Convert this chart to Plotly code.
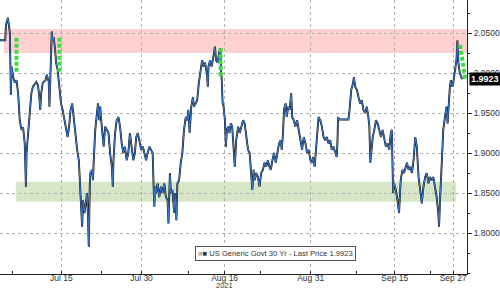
import plotly.graph_objects as go

# ---- data: trading-day index (Jul 1 2021 = 0) and yield ----
day = [1.86, 2.55, 2.65, 2.91, 3.17, 3.30, 3.39, 3.61, 3.83, 4.05, 4.26, 4.48, 4.71, 4.92, 5.14, 5.23, 5.30, 5.38,
       5.57, 5.71, 5.89, 6.02, 6.23, 6.45, 6.68, 6.89, 7.05, 7.20, 7.33, 7.54, 7.90, 8.07, 8.33, 8.42, 8.56, 8.65,
       8.73, 8.86, 8.99, 9.17, 9.30, 9.51, 9.74, 9.96, 10.17, 10.39, 10.62, 10.83, 11.05, 11.22, 11.44, 11.67,
       11.88, 12.10, 12.32, 12.53, 12.63, 12.76, 12.89, 13.06, 13.19, 13.41, 13.55, 13.64, 13.77, 13.85, 14.07,
       14.20, 14.29, 14.50, 14.73, 14.86, 15.03, 15.16, 15.29, 15.52, 15.61, 15.82, 16.04, 16.26, 16.47, 16.70,
       16.83, 16.92, 17.13, 17.35, 17.58, 17.79, 18.01, 18.23, 18.44, 18.67, 18.89, 19.10, 19.32, 19.55, 19.76,
       19.94, 20.15, 20.37, 20.60, 20.81, 21.03, 21.25, 21.46, 21.69, 21.91, 22.12, 22.25, 22.34, 22.44, 22.57,
       22.78, 23.00, 23.22, 23.43, 23.66, 23.88, 24.09, 24.22, 24.41, 24.54, 24.75, 24.97, 25.10, 25.27, 25.40,
       25.63, 25.85, 26.06, 26.28, 26.51, 26.72, 26.85, 27.03, 27.24, 27.47, 27.60, 27.82, 28.03, 28.25, 28.48,
       28.69, 28.87, 29.08, 29.30, 29.44, 29.53, 29.74, 29.96, 30.18, 30.39, 30.53, 30.75, 30.92, 31.10, 31.18,
       31.27, 31.41, 31.54, 31.71, 31.84, 31.97, 32.15, 32.32, 32.50, 32.68, 32.89, 33.02, 33.20, 33.47, 33.68,
       33.90, 34.12, 34.33, 34.56, 34.78, 34.99, 35.21, 35.35, 35.52, 35.65, 35.87, 36.09, 36.30, 36.53, 36.75,
       36.96, 37.18, 37.41, 37.62, 37.80, 38.01, 38.23, 38.46, 38.67, 38.89, 39.11, 39.25, 39.42, 39.55, 39.77,
       39.90, 40.11, 40.30, 40.51, 40.64, 40.86, 41.08, 41.29, 41.52, 41.74, 41.95, 42.17, 42.40, 42.61, 42.83,
       43.05, 43.26, 43.40, 43.62, 43.84, 44.01, 44.14, 44.37, 44.58, 44.80, 45.02, 45.23, 45.46, 45.68, 45.89,
       46.11, 46.34, 46.55, 46.64, 46.73, 46.86, 48.10, 48.25, 48.35, 48.48, 48.70, 48.83, 49.00, 49.23, 49.44,
       49.66, 49.88, 50.09, 50.32, 50.54, 50.75, 50.88, 51.01, 51.20, 51.33, 51.54, 51.76, 51.98, 52.19, 52.42,
       52.64, 52.85, 53.07, 53.30, 53.51, 53.73, 53.86, 53.95, 54.03, 54.16, 54.39, 54.61, 54.82, 55.04, 55.27,
       55.48, 55.66, 55.87, 56.09, 56.32, 56.53, 56.75, 56.97, 57.18, 57.41, 57.63, 57.84, 58.06, 58.29, 58.50,
       58.72, 58.94, 59.15, 59.38, 59.60, 59.81, 60.03, 60.13, 60.26, 60.39, 60.56, 60.69, 60.91, 61.12, 61.26,
       61.44, 61.57, 61.70, 61.87, 62.00, 62.14, 62.31, 62.44, 62.57, 62.70, 62.88, 63.02, 63.19]

yld = [2.041, 2.041, 2.060, 2.069, 2.050, 1.973, 2.008, 1.995, 1.988, 1.991, 1.975, 1.941, 1.929, 1.932, 1.912,
       1.883, 1.858, 1.900, 1.925, 1.932, 1.962, 1.975, 1.983, 1.986, 1.989, 1.985, 1.973, 1.954, 1.975, 1.988,
       1.991, 1.998, 1.989, 1.958, 2.008, 2.041, 2.052, 2.041, 2.045, 2.029, 2.013, 2.004, 1.983, 1.962, 1.954,
       1.941, 1.933, 1.920, 1.935, 1.954, 1.962, 1.941, 1.929, 1.904, 1.891, 1.845, 1.825, 1.808, 1.841, 1.825,
       1.833, 1.850, 1.816, 1.783, 1.858, 1.875, 1.879, 1.866, 1.888, 1.929, 1.950, 1.962, 1.941, 1.958, 1.941,
       1.916, 1.908, 1.933, 1.929, 1.925, 1.900, 1.883, 1.858, 1.891, 1.925, 1.941, 1.945, 1.933, 1.912, 1.900,
       1.908, 1.891, 1.900, 1.925, 1.908, 1.891, 1.900, 1.920, 1.925, 1.912, 1.904, 1.908, 1.900, 1.891, 1.900,
       1.908, 1.904, 1.900, 1.858, 1.833, 1.858, 1.850, 1.862, 1.845, 1.858, 1.850, 1.862, 1.845, 1.841, 1.812,
       1.875, 1.850, 1.854, 1.825, 1.850, 1.816, 1.862, 1.866, 1.888, 1.900, 1.929, 1.945, 1.941, 1.954, 1.925,
       1.958, 1.970, 1.958, 1.962, 1.966, 1.988, 2.004, 2.016, 2.008, 2.013, 2.000, 1.983, 2.008, 2.016, 2.008,
       2.020, 2.033, 2.016, 2.013, 2.025, 2.031, 2.004, 1.995, 1.962, 1.958, 1.941, 1.908, 1.929, 1.933, 1.925,
       1.937, 1.933, 1.908, 1.883, 1.916, 1.933, 1.925, 1.933, 1.941, 1.937, 1.920, 1.904, 1.900, 1.870, 1.854,
       1.879, 1.866, 1.875, 1.870, 1.858, 1.875, 1.879, 1.888, 1.883, 1.891, 1.883, 1.879, 1.891, 1.900, 1.888,
       1.900, 1.912, 1.916, 1.904, 1.925, 1.954, 1.962, 1.945, 1.958, 1.954, 1.975, 1.945, 1.941, 1.933, 1.941,
       1.925, 1.916, 1.904, 1.920, 1.912, 1.900, 1.904, 1.891, 1.888, 1.895, 1.883, 1.908, 1.929, 1.945, 1.941,
       1.933, 1.920, 1.916, 1.920, 1.912, 1.916, 1.904, 1.908, 1.900, 1.895, 1.912, 1.945, 1.942, 1.942, 1.954,
       1.966, 1.979, 1.987, 1.995, 1.983, 1.979, 1.970, 1.962, 1.966, 1.954, 1.950, 1.958, 1.945, 1.933, 1.888,
       1.908, 1.920, 1.929, 1.941, 1.937, 1.929, 1.920, 1.929, 1.916, 1.908, 1.912, 1.904, 1.925, 1.929, 1.888,
       1.850, 1.862, 1.854, 1.841, 1.825, 1.866, 1.879, 1.875, 1.883, 1.888, 1.879, 1.883, 1.875, 1.891, 1.920,
       1.908, 1.870, 1.850, 1.837, 1.858, 1.870, 1.875, 1.862, 1.870, 1.866, 1.870, 1.858, 1.845, 1.825, 1.808,
       1.841, 1.870, 1.900, 1.929, 1.945, 1.958, 1.937, 1.970, 1.983, 1.991, 1.983, 1.987, 1.995, 2.008, 2.016,
       2.041, 2.013, 2.000, 1.995, 1.9923]

tick_days = [10.0, 20.64, 31.67, 43.09, 54.26, 62.0]
tick_labels = ["Jul 15", "Jul 30", "Aug 16", "Aug 31", "Sep 15", "Sep 27"]
minor_days = [3.56, 15.38, 26.81, 36.40, 49.13, 59.0]
y_ticks = [1.80, 1.85, 1.90, 1.95, 2.00, 2.05]
last_price = 1.9923
series_name = "US Generic Govt 30 Yr - Last Price 1.9923"
year_label = "2021"

X0, X1 = 1.858, 63.84
Y0, Y1 = 1.7488, 2.0913
FONT = "Liberation Sans, Arial, sans-serif"

fig = go.Figure()

# resistance / support bands
fig.add_shape(type="rect", xref="x", yref="y", x0=2.38, x1=X1, y0=2.025, y1=2.055,
              fillcolor="rgba(255,190,190,0.72)", line_width=0, layer="below")
fig.add_shape(type="rect", xref="x", yref="y", x0=3.96, x1=62.40, y0=1.839, y1=1.864,
              fillcolor="rgba(200,222,180,0.75)", line_width=0, layer="below")

fig.add_trace(go.Scatter(x=day, y=yld, mode="lines", line=dict(color="#111111", width=1.9),
                         showlegend=False, hoverinfo="skip"))
fig.add_trace(go.Scatter(x=day, y=yld, mode="lines", line=dict(color="#3a74c4", width=1.1),
                         showlegend=False, name=series_name))

# green dashed arrows
arrows = [((4.05, 2.044), (4.05, 1.999)), ((9.74, 2.044), (9.74, 2.001)),
          ((31.14, 2.031), (31.14, 1.994)), ((62.92, 2.035), (63.60, 1.993))]
for (xa, ya), (xb, yb) in arrows:
    fig.add_trace(go.Scatter(x=[xa, xb], y=[ya, yb], mode="lines",
                             line=dict(color="#3fdc3f", width=4, dash="4px,2px"),
                             showlegend=False, hoverinfo="skip"))
    fig.add_annotation(x=xb, y=yb, ax=xb, ay=yb + 0.002, xref="x", yref="y", axref="x", ayref="y",
                       showarrow=True, arrowhead=2, arrowsize=1.1, arrowwidth=3, arrowcolor="#3fdc3f", text="")

# legend box
fig.add_annotation(xref="paper", yref="paper", x=0.417, y=0.073, xanchor="left", yanchor="middle",
                   text="<span style='color:#bbbbbb'>■</span>■ " + series_name,
                   showarrow=False, font=dict(size=7.6, color="#333333", family=FONT),
                   bgcolor="white", bordercolor="#555555", borderwidth=1, borderpad=2)

# last price tag
fig.add_annotation(xref="paper", yref="y", x=1, y=last_price, xanchor="left", yanchor="middle",
                   xshift=2, text="<b>%.4f</b>" % last_price, showarrow=False,
                   font=dict(size=9, color="white", family=FONT),
                   bgcolor="black", borderpad=1)

# year label under Aug 16
fig.add_annotation(xref="x", yref="paper", x=tick_days[2], y=-17 / 274, yanchor="bottom",
                   text=year_label, showarrow=False, borderpad=0,
                   font=dict(size=7.5, color="#333333", family=FONT))

fig.update_layout(
    width=500, height=291,
    margin=dict(l=0, r=28, t=0, b=17),
    paper_bgcolor="white", plot_bgcolor="white",
    font=dict(family=FONT, size=9, color="#333333"),
    xaxis=dict(range=[X0, X1], tickmode="array", tickvals=tick_days, ticktext=tick_labels,
               showline=True, linecolor="#222222", linewidth=1, ticks="inside", ticklen=3,
               tickcolor="#222222", showgrid=True, gridcolor="#b0b0b0", griddash="dot", gridwidth=1,
               zeroline=False, tickfont=dict(size=8.5, color="#333333", family=FONT),
               ticklabelstandoff=-4,
               minor=dict(tickvals=minor_days, ticks="inside", ticklen=3, tickcolor="#222222", showgrid=False)),
    yaxis=dict(range=[Y0, Y1], side="right", tickmode="array", tickvals=y_ticks,
               ticktext=["%.4f" % v for v in y_ticks],
               showline=True, linecolor="#222222", linewidth=1, ticks="outside", ticklen=4,
               tickcolor="#222222", showgrid=True, gridcolor="#b0b0b0", griddash="dot", gridwidth=1,
               zeroline=False, tickfont=dict(size=8.5, color="#333333", family=FONT),
               minor=dict(dtick=0.025, tick0=1.75, ticks="outside", ticklen=2, tickcolor="#222222",
                          showgrid=False)),
    showlegend=False,
)

fig.write_html("out.html")
